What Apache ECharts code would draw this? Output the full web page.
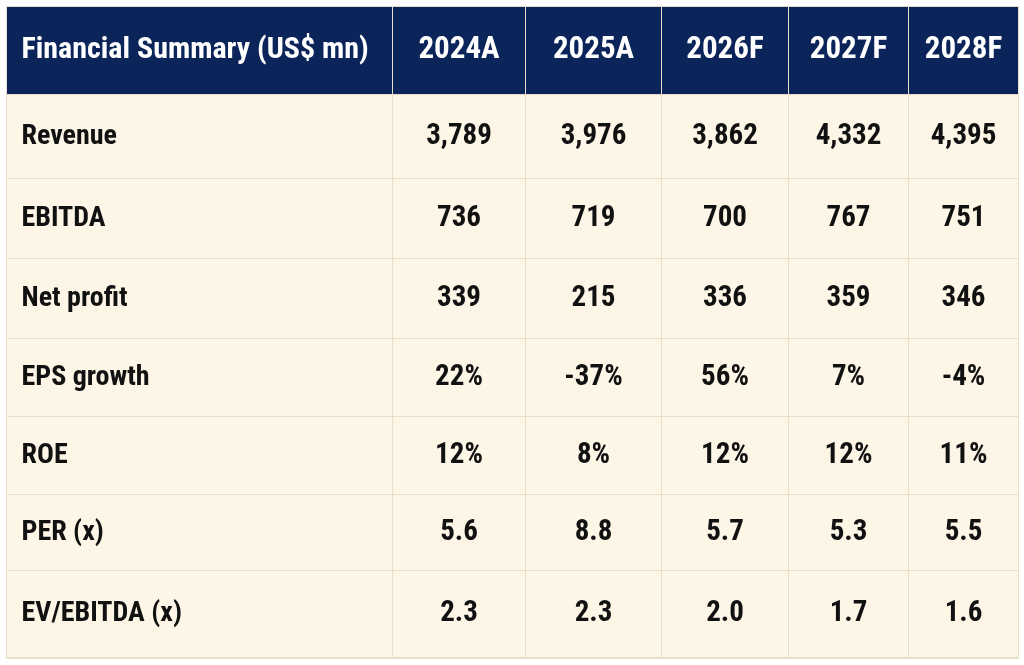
<!DOCTYPE html>
<html>
<head>
<meta charset="utf-8">
<script src="https://cdn.jsdelivr.net/npm/echarts@6.0.0/dist/echarts.min.js"></script>
<style>
  html, body { margin: 0; padding: 0; background: #ffffff; }
  #main { width: 1024px; height: 665px; }
</style>
</head>
<body>
<div id="main"></div>
<script>
// table content
const title = 'Financial Summary (US$ mn)';
const years = ['2024A', '2025A', '2026F', '2027F', '2028F'];
const metrics = ['Revenue', 'EBITDA', 'Net profit', 'EPS growth', 'ROE', 'PER (x)', 'EV/EBITDA (x)'];
const revenue = [3789, 3976, 3862, 4332, 4395];
const ebitda = [736, 719, 700, 767, 751];
const netProfit = [339, 215, 336, 359, 346];
const epsGrowth = [22, -37, 56, 7, -4];
const roe = [12, 8, 12, 12, 11];
const per = [5.6, 8.8, 5.7, 5.3, 5.5];
const evEbitda = [2.3, 2.3, 2.0, 1.7, 1.6];

// layout (pixels)
const colWidths = [133, 136, 127, 120, 110];
const rowHeights = [84, 80, 80, 78, 78, 76, 87];

const fmtInt = v => v.toLocaleString('en-US');
const fmtPct = v => v + '%';
const fmtX = v => v.toFixed(1);

const rows = [
    [revenue, fmtInt],
    [ebitda, fmtInt],
    [netProfit, fmtInt],
    [epsGrowth, fmtPct],
    [roe, fmtPct],
    [per, fmtX],
    [evEbitda, fmtX]
];

const cells = [];
rows.forEach(([vals, fmt], r) => {
    vals.forEach((v, c) => {
        cells.push({ coord: [c, r], value: fmt(v) });
    });
});

const navy = '#0b2459';
const cream = '#fdf6e7';
const line = '#e8dec9';
const font = '"Liberation Sans Narrow", "Roboto Condensed", "DejaVu Sans Condensed", sans-serif';

const myChart = echarts.init(document.getElementById('main'));
myChart.setOption({
    animation: false,
    backgroundColor: '#ffffff',
    matrix: {
        left: 6,
        top: 6,
        width: 1012,
        height: 652,
        backgroundStyle: { color: cream, borderColor: line, borderWidth: 1 },
        x: {
            data: years.map((y, i) => ({ value: y, size: colWidths[i] })),
            levelSize: 88,
            itemStyle: { color: navy, borderColor: line, borderWidth: 1 },
            dividerLineStyle: { color: line, width: 1 },
            label: { color: '#ffffff', fontSize: 31, fontWeight: 'bold', fontFamily: font }
        },
        y: {
            data: metrics.map((m, i) => ({ value: m, size: rowHeights[i] })),
            levelSize: 386,
            itemStyle: { color: cream, borderColor: line, borderWidth: 1 },
            dividerLineStyle: { color: line, width: 1 },
            label: {
                color: '#111111', fontSize: 28, fontWeight: 'bold', fontFamily: font,
                position: 'insideLeft', distance: 12
            }
        },
        corner: {
            data: [{ coord: [-1, -1], value: title }],
            itemStyle: { color: navy, borderColor: line, borderWidth: 1 },
            label: {
                color: '#ffffff', fontSize: 30, fontWeight: 'bold', fontFamily: font,
                position: 'insideLeft', distance: 12
            }
        },
        body: {
            data: cells,
            itemStyle: { color: cream, borderColor: line, borderWidth: 1 },
            label: { color: '#111111', fontSize: 29, fontWeight: 'bold', fontFamily: font }
        }
    }
});
</script>
</body>
</html>
